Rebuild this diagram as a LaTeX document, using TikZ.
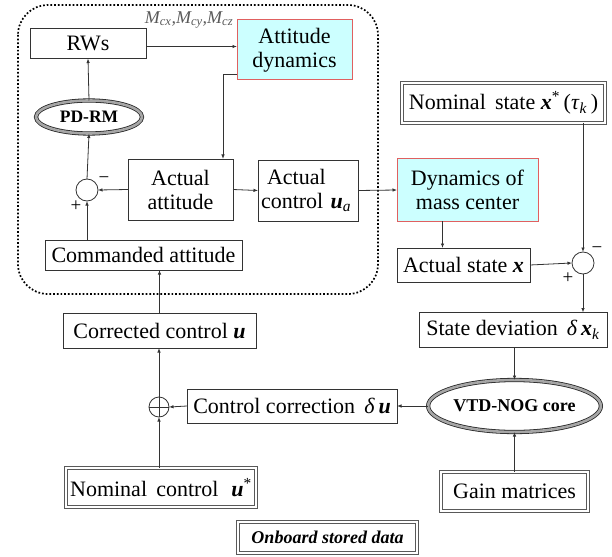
\documentclass[tikz,border=0pt]{standalone}
\usepackage{fontspec}
\setmainfont{Liberation Serif}
\usetikzlibrary{arrows.meta,shapes.geometric,calc}
\newcommand{\bvu}{\textbf{\textit{u}}}
\newcommand{\bvx}{\textbf{\textit{x}}}
\definecolor{lncol}{HTML}{333333}
\definecolor{cyanfill}{HTML}{CCFFFF}
\definecolor{redline}{HTML}{E06060}
\begin{document}
\begin{tikzpicture}[x=1pt,y=-1pt,
  every node/.style={inner sep=0pt,outer sep=0pt},
  blk/.style={draw=lncol,line width=0.8pt,fill=white,font=\fontsize{22}{24}\selectfont,align=center},
  dynblk/.style={draw=redline,line width=1pt,fill=cyanfill,font=\fontsize{22}{24}\selectfont,align=center},
  dblblk/.style={draw=black!65,line width=1.1pt,double=white,double distance=1.2pt,font=\fontsize{22}{24}\selectfont,align=center},
  ell/.style={ellipse,draw=black!85,line width=0.8pt,double=gray!70,double distance=2.6pt,fill=white,font=\bfseries\fontsize{17.5}{19}\selectfont},
  sumc/.style={circle,draw=lncol,line width=0.8pt,minimum size=22pt},
  arr/.style={draw=lncol,line width=0.8pt,-{Latex[length=4.5pt,width=3.5pt]}},
  ln/.style={draw=lncol,line width=0.8pt},
  sgn/.style={font=\fontsize{19}{20}\selectfont}
]
\useasboundingbox (0,0) rectangle (612,556);
% dotted frame
\draw[line width=1.7pt,dotted,rounded corners=30pt] (18,5) rectangle (378,294);

\node[blk,minimum width=116pt,minimum height=30pt] (rws) at (88,43.5) {RWs};
\node[dynblk,minimum width=115pt,minimum height=60pt] (attdyn) at (294.5,50) {Attitude\\dynamics};
\node[ell,minimum width=106pt,minimum height=33pt] (pdrm) at (89,117) {PD-RM};
\node[sumc] (sum1) at (87,190) {};
\node[blk,minimum width=105pt,minimum height=61pt] (actatt) at (180.5,189.5) {Actual\\attitude};
\node[blk,minimum width=100pt,minimum height=61pt,align=left,text width=94pt] (actctl) at (308,190.5) {\hspace*{6pt}Actual\\control \bvu\textsubscript{\textit{a}}};
\node[blk,minimum width=197pt,minimum height=30pt] (cmdatt) at (143.5,255) {Commanded attitude};
\node[font=\itshape\fontsize{18}{20}\selectfont,text=black!65] (mlab) at (189,20) {M\textsubscript{cx},M\textsubscript{cy},M\textsubscript{cz}};

\node[dynblk,minimum width=141pt,minimum height=62pt] (dynmc) at (467.5,190) {Dynamics of\\mass center};
\node[dblblk,minimum width=203pt,minimum height=40pt] (nomstate) at (503.5,103) {Nominal\, state \bvx\textsuperscript{*}\,(\textit{τ}\textsubscript{\textit{k}}\,)};
\node[sumc] (sum2) at (583,263) {};
\node[blk,minimum width=133pt,minimum height=34pt] (actstate) at (463.5,265) {Actual state \bvx};
\node[blk,minimum width=188pt,minimum height=35pt] (statedev) at (513,330) {State deviation\, \textit{δ}\,\bvx\textsubscript{\textit{k}}};
\node[blk,minimum width=193pt,minimum height=35pt] (corrctl) at (159.5,330.5) {Corrected control \bvu};
\node[ell,minimum width=157pt,minimum height=52pt,font=\bfseries\fontsize{18}{20}\selectfont] (vtd) at (514.5,406) {VTD-NOG core};
\node[blk,minimum width=210pt,minimum height=34pt] (ctlcorr) at (292,406) {Control correction\, \textit{δ}\,\bvu};
\node[circle,draw=lncol,line width=0.8pt,minimum size=20pt] (plus) at (159,407) {};
\draw[ln] (plus.north) -- (plus.south) (plus.west) -- (plus.east);
\node[dblblk,minimum width=190pt,minimum height=39pt] (nomctl) at (161,487.5) {Nominal\, control\,\, \bvu\textsuperscript{*}};
\node[dblblk,minimum width=147pt,minimum height=39pt] (gain) at (514.5,491.5) {Gain matrices};
\node[dblblk,minimum width=179pt,minimum height=31pt,font=\bfseries\itshape\fontsize{18}{20}\selectfont] (onb) at (327.5,537.5) {Onboard stored data};

% connectors
\draw[arr] ([yshift=-3pt]rws.east) -- ([yshift=-3pt]rws.east -| attdyn.west);
\draw[arr] ([yshift=6pt]attdyn.south west) -| ([xshift=-10pt]actatt.north east);
\draw[arr] (actatt.west) -- (sum1.east);
\draw[arr] (sum1.north) -- (pdrm.south);
\draw[arr] (pdrm.north) -- (rws.south);
\draw[arr] (sum1.south |- cmdatt.north) -- (sum1.south);
\draw[arr] (actatt.east) -- (actctl.west);
\draw[arr] (actctl.east) -- (dynmc.west);
\draw[arr] ([xshift=-25pt]dynmc.south) -- ([xshift=-25pt]dynmc.south |- actstate.north);
\draw[arr] (actstate.east) -- (sum2.west);
\draw[arr] (sum2.north |- nomstate.south) -- (sum2.north);
\draw[arr] (sum2.south) -- (sum2.south |- statedev.north);
\draw[arr] (vtd.north |- statedev.south) -- (vtd.north);
\draw[arr] (vtd.west) -- (ctlcorr.east);
\draw[arr] (ctlcorr.west) -- (plus.east);
\draw[arr] (plus.south |- nomctl.north) -- (plus.south);
\draw[arr] (plus.north) -- (plus.north |- corrctl.south);
\draw[arr] (corrctl.north) -- (corrctl.north |- cmdatt.south);
\draw[arr] (gain.north) -- (gain.north |- vtd.south);

% signs
\node[sgn] (m1) at (104,180) {−};
\node[sgn] (p1) at (76,206) {+};
\node[sgn] (m2) at (597,250) {−};
\node[sgn] (p2) at (568,278) {+};
\end{tikzpicture}
\end{document}
